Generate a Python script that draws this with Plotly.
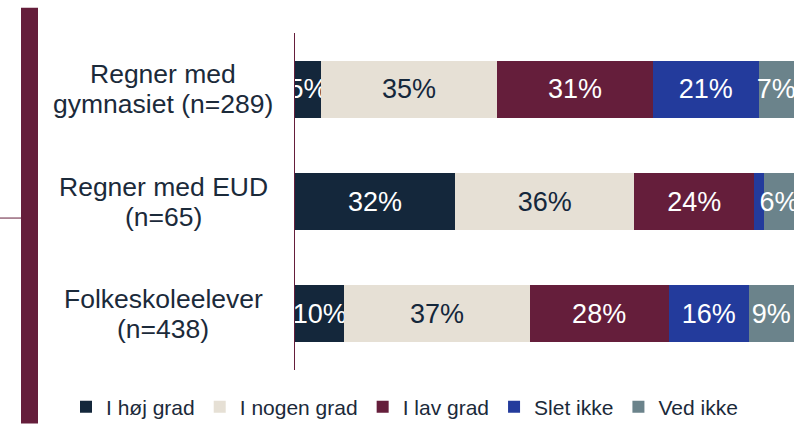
import plotly.graph_objects as go

# --- data ---
categories = ["Regner med<br>gymnasiet (n=289)", "Regner med EUD<br>(n=65)", "Folkeskoleelever<br>(n=438)"]
series_names = ["I høj grad", "I nogen grad", "I lav grad", "Slet ikke", "Ved ikke"]
hoej_grad = [5.2, 32.1, 9.9]
nogen_grad = [35.3, 35.9, 37.1]
lav_grad = [31.2, 24.0, 27.9]
slet_ikke = [21.2, 2.0, 16.0]
ved_ikke = [7.1, 6.0, 9.1]

series_values = [hoej_grad, nogen_grad, lav_grad, slet_ikke, ved_ikke]
colors = ["#14273b", "#e6e0d5", "#651e3b", "#233b9c", "#6b838b"]
text_colors = ["white", "#14273b", "white", "white", "white"]

FONT = "Liberation Sans, Arial, sans-serif"
W, H = 800, 434
L, R, T, B = 295, 6, 33, 55
PW, PH = W - L - R, H - T - B


def px_x(px):
    return (px - L) / PW


def px_y(py):
    return (H - B - py) / PH


fig = go.Figure()
for name, vals, col, tcol in zip(series_names, series_values, colors, text_colors):
    labels = [f"{round(v)}%" if v >= 3 else "" for v in vals]
    fig.add_trace(go.Bar(
        y=categories, x=vals, name=name, orientation="h",
        marker=dict(color=col, line=dict(width=0)),
        text=labels, textposition="inside", insidetextanchor="middle",
        constraintext="none", textangle=0,
        textfont=dict(color=tcol, size=27, family=FONT),
        hoverinfo="skip",
    ))

# kategori-tekster: to linjer, centreret
for cat in categories:
    lines = cat.split("<br>")
    for i, line in enumerate(lines):
        fig.add_annotation(
            x=px_x(163), xref="paper", y=cat, yref="y", text=line,
            showarrow=False, xanchor="center", yanchor="middle", align="center",
            yshift=15 - 30 * i,
            font=dict(size=26.5, color="#1b2a3a", family=FONT),
        )

# dekoration i venstre side
fig.add_shape(type="rect", xref="paper", yref="paper",
              x0=px_x(21), x1=px_x(38), y0=px_y(434), y1=px_y(7),
              fillcolor="#651e3b", line=dict(width=0), layer="above")
fig.add_shape(type="line", xref="paper", yref="paper",
              x0=px_x(0), x1=px_x(21), y0=px_y(223), y1=px_y(223),
              line=dict(color="#651e3b", width=1))

fig.update_layout(
    width=W, height=H,
    margin=dict(l=L, r=R, t=T, b=B),
    barmode="stack", bargap=0.49,
    plot_bgcolor="white", paper_bgcolor="white",
    font=dict(family=FONT, color="#1b2a3a"),
    showlegend=True,
    legend=dict(
        orientation="h", x=px_x(66), xanchor="left", y=px_y(396), yanchor="top",
        font=dict(size=21, color="#1b2a3a", family=FONT),
        itemwidth=30, traceorder="normal", itemclick=False,
    ),
)
fig.update_xaxes(range=[0, 100], visible=False, fixedrange=True)
fig.update_yaxes(autorange="reversed", showticklabels=False, showgrid=False,
                 showline=True, linecolor="#651e3b", linewidth=1, ticks="",
                 zeroline=False, fixedrange=True)

fig.write_html("out.html", config={"displayModeBar": False},
               post_script="document.body.style.margin='0';")
